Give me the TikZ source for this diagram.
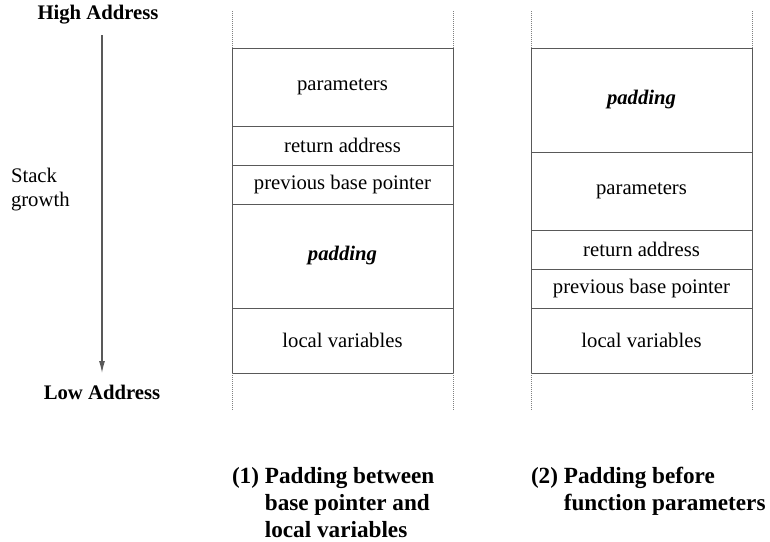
\documentclass[tikz,border=0pt]{standalone}
\usepackage{fontspec}
\setmainfont{Liberation Serif}
\usetikzlibrary{arrows.meta, positioning}
\colorlet{colorFrame}{black!65}
\colorlet{colorGuide}{black!50}

\begin{document}
\begin{tikzpicture}[x=0.5pt, y=-0.5pt, >={Latex[length=6pt,width=3pt]},
  every node/.style={inner sep=0pt, outer sep=0pt},
  slot/.style={draw=colorFrame, line width=0.5pt, minimum width=110.5pt, font=\fontsize{10.35}{12}\selectfont},
  pad/.style={slot, font=\fontsize{10.35}{12}\selectfont\bfseries\itshape},
  addr/.style={font=\fontsize{10.35}{12}\selectfont\bfseries},
  caption/.style={anchor=north west, font=\fontsize{11.6}{13.5}\selectfont\bfseries},
  guide/.style={colorGuide, line width=0.5pt, dash pattern=on 0.5pt off 0.5pt}]
\useasboundingbox (0,0) rectangle (770,541);

% address labels and growth arrow
\node[addr] (high) at (98,15) {High Address};
\node[addr] (low) at (102,392) {Low Address};
\node[anchor=west, align=left, font=\fontsize{10.35}{12}\selectfont] (growth) at (11,190) {Stack\\growth};
\coordinate (gtop) at (102,35);
\coordinate (gbot) at (102,373);
\draw[->, colorFrame, line width=0.6pt] (gtop) -- (gbot);

% frame 1
\node[slot, minimum height=39pt, anchor=north west] (param1) at (232,48) {parameters};
\node[slot, minimum height=19.5pt, below=0pt of param1] (ret1) {return address};
\node[slot, minimum height=19.5pt, below=0pt of ret1] (base1) {previous base pointer};
\node[pad, minimum height=52pt, below=0pt of base1] (pad1) {padding};
\node[slot, minimum height=32.5pt, below=0pt of pad1] (local1) {local variables};

% frame 2
\node[pad, minimum height=52pt, anchor=north west] (pad2) at (531,48) {padding};
\node[slot, minimum height=39pt, below=0pt of pad2] (param2) {parameters};
\node[slot, minimum height=19.5pt, below=0pt of param2] (ret2) {return address};
\node[slot, minimum height=19.5pt, below=0pt of ret2] (base2) {previous base pointer};
\node[slot, minimum height=32.5pt, below=0pt of base2] (local2) {local variables};

% dotted guides
\foreach \hi/\lo in {param1/local1, pad2/local2} {
  \draw[guide] (\hi.north west) -- +(0,-38);
  \draw[guide] (\hi.north east) -- +(0,-38);
  \draw[guide] (\lo.south west) -- +(0,37);
  \draw[guide] (\lo.south east) -- +(0,37);
}

% captions
\node[caption] (cap1) at (232,465) {\begin{tabular}{@{}l@{ }l@{}}(1)&Padding between\\&base pointer and\\&local variables\end{tabular}};
\node[caption] (cap2) at (531,465) {\begin{tabular}{@{}l@{ }l@{}}(2)&Padding before\\&function parameters\end{tabular}};
\end{tikzpicture}
\end{document}
